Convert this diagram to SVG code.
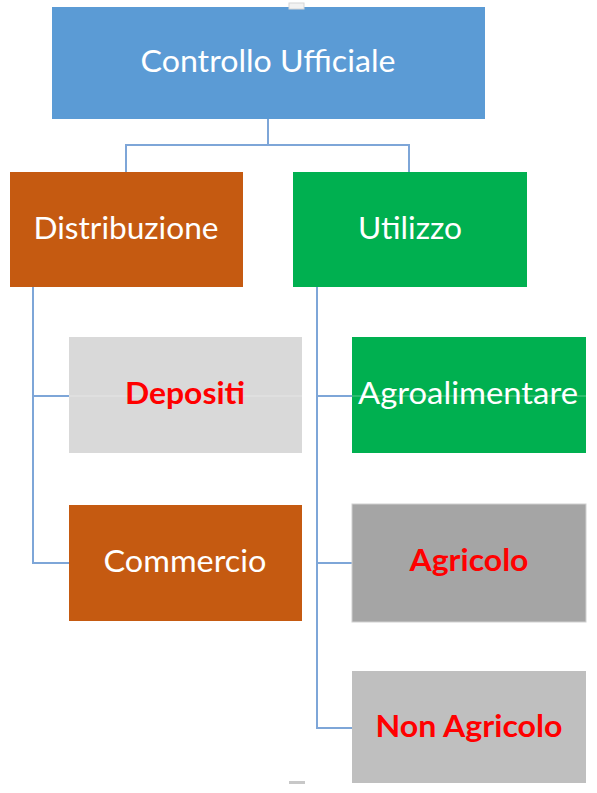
<svg xmlns="http://www.w3.org/2000/svg" width="597" height="793" viewBox="0 0 597 793">
<style>
.t{font-family:Lato,"Open Sans","Liberation Sans",sans-serif;font-size:31px;text-anchor:middle;fill:#ffffff}
.r{font-family:Lato,"Open Sans","Liberation Sans",sans-serif;font-size:31px;font-weight:bold;text-anchor:middle;fill:#ff0000}
.c{fill:none;stroke:#7ea6d8;stroke-width:2}
.f{stroke:#ffffff;stroke-opacity:0.35;stroke-width:1}
</style>
<rect width="597" height="793" fill="#ffffff"/>
<g id="connectors">
<path class="c" d="M268 119V145M126 172V145H409V172"/>
<path class="c" d="M33 287V563H69M33 396H69"/>
<path class="c" d="M317 287V728H352M317 396H352M317 563H352"/>
</g>
<g id="controllo"><rect x="52" y="7" width="433" height="112" fill="#5b9bd5"/><text class="t" x="268" y="72" textLength="255" lengthAdjust="spacingAndGlyphs">Controllo Ufficiale</text></g>
<g id="distribuzione"><rect x="10" y="172" width="233" height="115" fill="#c55a11"/><text class="t" x="126" y="239" textLength="185" lengthAdjust="spacingAndGlyphs">Distribuzione</text></g>
<g id="utilizzo"><rect x="293" y="172" width="234" height="115" fill="#00b050"/><text class="t" x="410" y="239" textLength="104" lengthAdjust="spacingAndGlyphs">Utilizzo</text></g>
<g id="depositi"><rect x="69" y="337" width="233" height="116" fill="#d9d9d9"/><line class="f" x1="69" y1="396" x2="302" y2="396"/><text class="r" x="185" y="404" textLength="120" lengthAdjust="spacingAndGlyphs">Depositi</text></g>
<g id="commercio"><rect x="69" y="505" width="233" height="116" fill="#c55a11"/><text class="t" x="185" y="572" textLength="163" lengthAdjust="spacingAndGlyphs">Commercio</text></g>
<g id="agroalimentare"><rect x="352" y="337" width="234" height="116" fill="#00b050"/><line class="f" x1="352" y1="396" x2="586" y2="396"/><text class="t" x="468" y="404" textLength="220" lengthAdjust="spacingAndGlyphs">Agroalimentare</text></g>
<g id="agricolo"><rect x="352" y="504" width="234" height="118" fill="#a5a5a5" stroke="#d0d0d0" stroke-width="1"/><text class="r" x="469" y="571" textLength="119" lengthAdjust="spacingAndGlyphs">Agricolo</text></g>
<g id="nonagricolo"><rect x="352" y="671" width="234" height="112" fill="#bfbfbf"/><text class="r" x="469" y="737" textLength="187" lengthAdjust="spacingAndGlyphs">Non Agricolo</text></g>
<rect x="289" y="3" width="15" height="6" fill="#f2f2f2" stroke="#d6d6d6" stroke-width="1"/>
<rect x="289" y="781" width="16" height="3" fill="#c8c8c8"/>
</svg>
